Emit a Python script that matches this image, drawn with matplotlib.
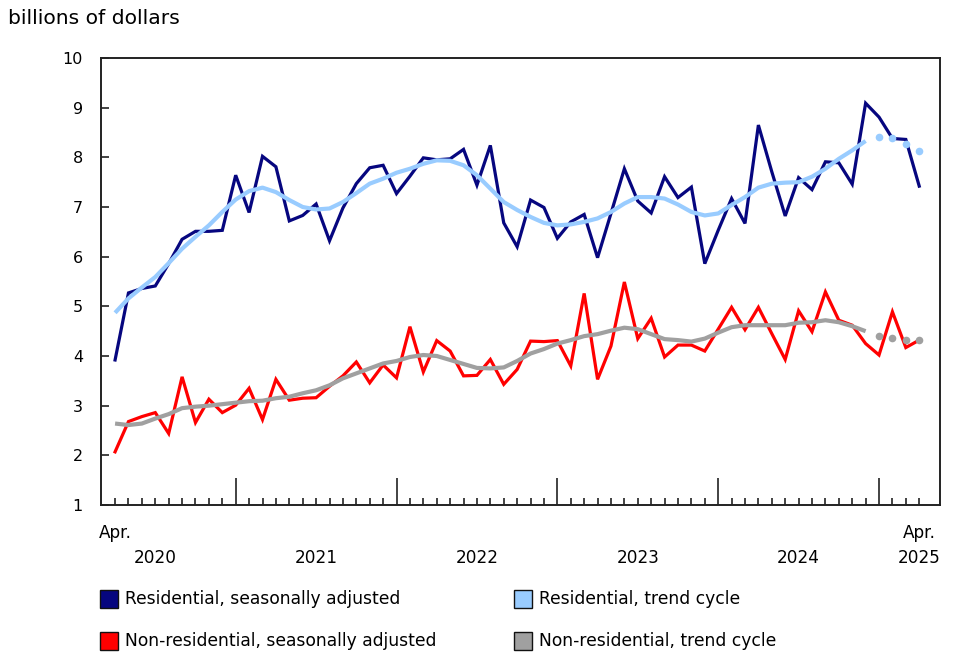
import matplotlib

matplotlib.use("Agg")
import matplotlib.pyplot as plt
import matplotlib.transforms as mtransforms
from matplotlib.patches import Rectangle
import pandas as pd

plt.rcParams["font.family"] = "DejaVu Sans"

NAVY = "#06067f"
LIGHT_BLUE = "#99ccff"
RED = "#ff0000"
GREY = "#a0a0a0"

# Monthly, April 2020 to April 2025
months = pd.date_range("2020-04-01", "2025-04-01", freq="MS")

res_sa = [3.92, 5.27, 5.36, 5.41, 5.86, 6.35, 6.51, 6.51, 6.53, 7.64,
          6.89, 8.02, 7.81, 6.72, 6.83, 7.06, 6.32, 6.98, 7.47, 7.79,
          7.84, 7.27, 7.62, 7.99, 7.95, 7.97, 8.16, 7.44, 8.24, 6.68,
          6.20, 7.14, 6.99, 6.37, 6.70, 6.85, 5.98, 6.87, 7.77, 7.12,
          6.88, 7.61, 7.19, 7.40, 5.86, 6.53, 7.17, 6.67, 8.65, 7.71,
          6.82, 7.59, 7.35, 7.91, 7.89, 7.46, 9.09, 8.81, 8.38, 8.36,
          7.42]

res_tc = [4.87, 5.16, 5.38, 5.59, 5.87, 6.16, 6.40, 6.63, 6.90, 7.15,
          7.32, 7.39, 7.30, 7.14, 7.00, 6.95, 6.97, 7.10, 7.28, 7.47,
          7.57, 7.69, 7.77, 7.87, 7.94, 7.93, 7.84, 7.64, 7.37, 7.10,
          6.94, 6.80, 6.68, 6.63, 6.65, 6.70, 6.77, 6.90, 7.07, 7.20,
          7.20, 7.17, 7.05, 6.90, 6.83, 6.87, 7.04, 7.20, 7.39, 7.47,
          7.49, 7.50, 7.61, 7.77, 7.97, 8.14, 8.33, 8.40, 8.38, 8.26,
          8.13]

nonres_sa = [2.07, 2.68, 2.78, 2.86, 2.44, 3.58, 2.66, 3.13, 2.86, 3.01,
             3.35, 2.72, 3.53, 3.11, 3.15, 3.16, 3.39, 3.60, 3.88, 3.46,
             3.82, 3.56, 4.59, 3.68, 4.31, 4.10, 3.60, 3.61, 3.93, 3.43,
             3.73, 4.30, 4.29, 4.31, 3.80, 5.26, 3.53, 4.20, 5.49, 4.35,
             4.76, 3.98, 4.22, 4.22, 4.10, 4.54, 4.98, 4.53, 4.98, 4.45,
             3.93, 4.91, 4.49, 5.29, 4.72, 4.62, 4.25, 4.02, 4.89, 4.17,
             4.32]

nonres_tc = [2.64, 2.61, 2.64, 2.74, 2.83, 2.95, 2.98, 3.00, 3.03, 3.06,
             3.09, 3.10, 3.15, 3.18, 3.25, 3.31, 3.41, 3.55, 3.65, 3.75,
             3.85, 3.90, 3.98, 4.02, 4.00, 3.92, 3.84, 3.76, 3.75, 3.77,
             3.90, 4.05, 4.14, 4.25, 4.32, 4.40, 4.44, 4.51, 4.57, 4.54,
             4.44, 4.34, 4.32, 4.29, 4.35, 4.47, 4.58, 4.62, 4.62, 4.62,
             4.62, 4.67, 4.68, 4.72, 4.68, 4.60, 4.50, 4.40, 4.37, 4.33,
             4.33]

# last trend points are provisional, drawn as dots
N_PROVISIONAL = 4

legend_labels = [
    "Residential, seasonally adjusted",
    "Residential, trend cycle",
    "Non-residential, seasonally adjusted",
    "Non-residential, trend cycle",
]
legend_colors = [NAVY, LIGHT_BLUE, RED, GREY]


def main():
    W, H = 973, 665
    fig = plt.figure(figsize=(W / 100, H / 100), dpi=100)
    ax = fig.add_axes([101 / W, 1 - 505 / H, (940 - 101) / W, (505 - 58) / H])

    x = list(range(len(months)))
    cut = len(months) - N_PROVISIONAL

    # seasonally adjusted lines
    ax.plot(x, res_sa, color=NAVY, lw=2.3, solid_joinstyle="miter")
    ax.plot(x, nonres_sa, color=RED, lw=2.3, solid_joinstyle="miter")

    # trend cycle lines + provisional dots
    ax.plot(x[:cut], res_tc[:cut], color=LIGHT_BLUE, lw=3, solid_capstyle="butt")
    ax.plot(x[cut:], res_tc[cut:], "o", color=LIGHT_BLUE, ms=5.5, mew=0)
    ax.plot(x[:cut], nonres_tc[:cut], color=GREY, lw=3, solid_capstyle="butt")
    ax.plot(x[cut:], nonres_tc[cut:], "o", color=GREY, ms=5.5, mew=0)

    ax.set_xlim(-1.05, 61.55)
    ax.set_ylim(1, 10)

    # axis styling
    for spine in ax.spines.values():
        spine.set_color("#222222")
        spine.set_linewidth(1.4)

    ax.set_yticks(range(1, 11))
    ax.tick_params(axis="y", direction="in", length=6, width=1.2,
                   color="#222222", labelsize=11.5, pad=13)

    jan_idx = [i for i, m in enumerate(months) if m.month == 1]
    other_idx = [i for i in x if i not in jan_idx]
    ax.set_xticks(jan_idx)
    ax.set_xticks(other_idx, minor=True)
    ax.tick_params(axis="x", which="major", direction="in", length=19.5,
                   width=1.2, color="#222222", labelbottom=False)
    ax.tick_params(axis="x", which="minor", direction="in", length=5,
                   width=1.2, color="#222222", labelbottom=False)

    # x labels: Apr. at both ends, year names centered on each year
    tr = mtransforms.blended_transform_factory(ax.transData, fig.transFigure)
    y_month = 1 - 533 / H
    y_year = 1 - 558 / H
    ax.text(0, y_month, "Apr.", transform=tr, ha="center", va="center",
            fontsize=12.2)
    ax.text(x[-1], y_month, "Apr.", transform=tr, ha="center", va="center",
            fontsize=12.2)
    years = sorted(set(m.year for m in months))
    for yr in years:
        if yr == years[-1]:
            pos = x[-1]
        else:
            jan = [i for i, m in enumerate(months) if m.year == yr + 1 and m.month == 1][0]
            pos = jan - 6
        ax.text(pos, y_year, str(yr), transform=tr, ha="center", va="center",
                fontsize=12.2)

    # unit label
    fig.text(8 / W, 1 - 18 / H, "billions of dollars", ha="left",
             va="center", fontsize=14.6)

    # legend, 2 x 2 grid
    col_x = [100, 514]
    row_y = [599, 641]
    box = 18
    for k, (lab, col) in enumerate(zip(legend_labels, legend_colors)):
        cx = col_x[k % 2]
        cy = row_y[k // 2]
        fig.add_artist(Rectangle(
            (cx / W, 1 - (cy + box / 2) / H), box / W, box / H,
            transform=fig.transFigure, facecolor=col, edgecolor="#111111",
            linewidth=1.0))
        fig.text((cx + box + 7) / W, 1 - cy / H, lab, ha="left", va="center",
                 fontsize=12.3)

    fig.savefig("out.png", dpi=100, facecolor="white")
    plt.close(fig)


if __name__ == "__main__":
    main()
